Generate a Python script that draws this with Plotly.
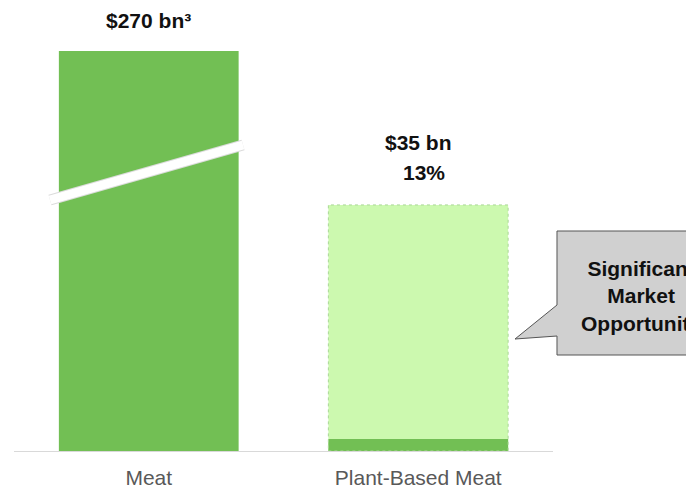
import plotly.graph_objects as go

# Market sizes, US$ bn
categories = ["Meat", "Plant-Based Meat"]
market_size = [270, 35]          # total meat market / plant-based potential
current_sales = [None, 1.7]      # today's plant-based meat sales
share_label = "13%"
value_labels = ["$270 bn³", "$35 bn"]

DARK_GREEN = "rgb(114,191,84)"
LIGHT_GREEN = "rgb(204,249,175)"
FONT = "Liberation Sans, Arial, sans-serif"
BAR_W = 0.667
Y_TOP = 56.9  # axis is broken: the meat bar runs past the top

fig = go.Figure()
fig.add_trace(go.Bar(
    x=categories, y=market_size, width=BAR_W,
    marker=dict(color=[DARK_GREEN, LIGHT_GREEN], line=dict(width=0)),
    hoverinfo="skip",
))
fig.add_trace(go.Bar(
    x=categories, y=current_sales, width=BAR_W,
    marker=dict(color=DARK_GREEN, line=dict(width=0)),
    hoverinfo="skip",
))

# dotted outline around the plant-based potential bar
fig.add_shape(type="rect", xref="x", yref="y",
              x0=1 - BAR_W / 2, x1=1 + BAR_W / 2, y0=0, y1=market_size[1],
              line=dict(color="rgb(170,215,150)", width=1, dash="dot"),
              fillcolor="rgba(0,0,0,0)", layer="above")

# axis-break band across the meat bar
for col, w in [("rgb(220,220,220)", 11), ("white", 9)]:
    fig.add_shape(type="line", xref="paper", yref="paper",
                  x0=0.0668, y0=0.6275, x1=0.4249, y1=0.765,
                  line=dict(color=col, width=w), layer="above")

LABEL_FONT = dict(family=FONT, size=21, color="#111111")

# value labels
fig.add_annotation(x=0, y=1.0775, xref="x", yref="paper",
                   text="<b>" + value_labels[0] + "</b>",
                   showarrow=False, yanchor="middle", font=LABEL_FONT)
fig.add_annotation(x=1, y=market_size[1], xref="x", yref="y",
                   text="<b>" + value_labels[1] + "</b>",
                   showarrow=False, yanchor="middle", yshift=62, font=LABEL_FONT)
fig.add_annotation(x=1, y=market_size[1], xref="x", yref="y",
                   text="<b>" + share_label + "</b>",
                   showarrow=False, yanchor="middle", yshift=32, xshift=6,
                   font=LABEL_FONT)

# callout
fig.add_shape(type="path", xref="paper", yref="paper",
              path=("M 1.0074 0.55 L 1.319 0.55 L 1.319 0.24 L 1.0074 0.24 "
                    "L 1.0074 0.2875 L 0.9295 0.28 L 1.0074 0.365 Z"),
              fillcolor="rgb(208,208,208)", line=dict(color="#555555", width=1),
              layer="above")
fig.add_annotation(x=1.163, y=0.3875, xref="paper", yref="paper",
                   text="<b>Significant<br>Market<br>Opportunity</b>",
                   showarrow=False, yanchor="middle", xanchor="center",
                   font=LABEL_FONT)

fig.update_layout(
    width=686, height=492,
    margin=dict(l=14, r=133, t=51, b=41),
    barmode="overlay",
    showlegend=False,
    plot_bgcolor="white", paper_bgcolor="white",
    font=dict(family=FONT),
)
fig.update_xaxes(range=[-0.5, 1.5], showline=True, linecolor="rgb(217,217,217)",
                 linewidth=1, ticks="", showgrid=False, ticklabelstandoff=8,
                 automargin=False,
                 tickfont=dict(family=FONT, size=21, color="#595959"))
fig.update_yaxes(range=[0, Y_TOP], visible=False, showgrid=False, automargin=False)

fig.write_html("out.html")
